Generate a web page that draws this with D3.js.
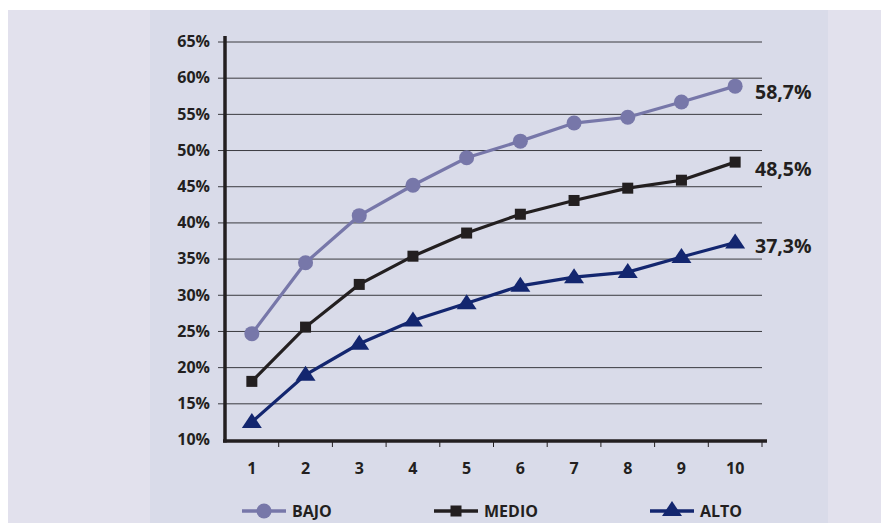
<!DOCTYPE html>
<html>
<head>
<meta charset="utf-8">
<script src="https://cdn.jsdelivr.net/npm/d3@7"></script>
<style>
  body { margin: 0; background: #fff; }
  svg text { font-family: "Open Sans", "DejaVu Sans", sans-serif; font-weight: 700; fill: #231f20; }
</style>
</head>
<body>
<div id="chart"></div>
<script>
// Datos
const categories = [1, 2, 3, 4, 5, 6, 7, 8, 9, 10];
const bajo  = [24.7, 34.5, 41.0, 45.2, 49.0, 51.3, 53.8, 54.6, 56.7, 58.9];
const medio = [18.1, 25.6, 31.5, 35.4, 38.6, 41.2, 43.1, 44.8, 45.9, 48.4];
const alto  = [12.5, 19.0, 23.3, 26.5, 28.9, 31.3, 32.5, 33.2, 35.3, 37.3];
const yTicks = [10, 15, 20, 25, 30, 35, 40, 45, 50, 55, 60, 65];
const endLabels = ['58,7%', '48,5%', '37,3%'];

const series = [
    { name: 'BAJO', values: bajo, color: '#7777a9', marker: 'circle' },
    { name: 'MEDIO', values: medio, color: '#231f20', marker: 'square' },
    { name: 'ALTO', values: alto, color: '#13266f', marker: 'triangle' }
];

const W = 881, H = 523;
const svg = d3.select('#chart').append('svg')
    .attr('width', W).attr('height', H);

// fondos
svg.append('rect').attr('x', 8).attr('y', 10).attr('width', W - 8).attr('height', H - 10).attr('fill', '#e2e1ed');
svg.append('rect').attr('x', 150).attr('y', 10).attr('width', 678).attr('height', H - 10).attr('fill', '#d9dbe9');

const x = d3.scaleBand().domain(categories).range([225, 762]);
const y = d3.scaleLinear().domain([10, 65]).range([440, 42]);

// líneas de cuadrícula
svg.append('g')
    .selectAll('line')
    .data(yTicks.filter(d => d > 10))
    .join('line')
    .attr('x1', 218).attr('x2', 762)
    .attr('y1', d => y(d)).attr('y2', d => y(d))
    .attr('stroke', '#3a3a3f').attr('stroke-width', 1);

// etiquetas eje y
svg.append('g')
    .selectAll('text')
    .data(yTicks)
    .join('text')
    .attr('x', 210)
    .attr('y', d => y(d) + 1)
    .attr('text-anchor', 'end')
    .attr('dominant-baseline', 'middle')
    .attr('font-size', 16)
    .text(d => d + '%');

// eje x
const xAxis = svg.append('g').attr('transform', `translate(0,${y(10)})`);
xAxis.call(d3.axisBottom(x).tickSize(0).tickPadding(23));
xAxis.select('.domain').remove();
xAxis.selectAll('text').attr('font-size', 16).style('font-family', '"Open Sans", sans-serif').attr('fill', '#231f20');
xAxis.selectAll('.tickmark')
    .data(categories)
    .join('line')
    .attr('x1', d => x(d) + x.bandwidth()).attr('x2', d => x(d) + x.bandwidth())
    .attr('y1', 0).attr('y2', 7)
    .attr('stroke', '#231f20').attr('stroke-width', 1);

svg.append('line')
    .attr('x1', 223).attr('x2', 767)
    .attr('y1', y(10) + 1).attr('y2', y(10) + 1)
    .attr('stroke', '#231f20').attr('stroke-width', 3.5);
svg.append('line')
    .attr('x1', 225).attr('x2', 225)
    .attr('y1', 36).attr('y2', y(10) + 2.5)
    .attr('stroke', '#231f20').attr('stroke-width', 3.5);

const cx = d => x(d) + x.bandwidth() / 2;

function drawMarker(g, type, color, px, py) {
    if (type === 'circle') {
        g.append('circle').attr('cx', px).attr('cy', py).attr('r', 7.5).attr('fill', color);
    } else if (type === 'square') {
        g.append('rect').attr('x', px - 5.5).attr('y', py - 5.5).attr('width', 11).attr('height', 11).attr('fill', color);
    } else {
        g.append('path')
            .attr('d', `M${px},${py - 9}L${px + 10},${py + 6}L${px - 10},${py + 6}Z`)
            .attr('fill', color);
    }
}

const line = d3.line().x((d, i) => cx(categories[i])).y(d => y(d));
const labelDy = [13, 14, 11];

series.forEach((s, k) => {
    const g = svg.append('g');
    g.append('path')
        .datum(s.values)
        .attr('d', line)
        .attr('fill', 'none')
        .attr('stroke', s.color)
        .attr('stroke-width', 3.2);
    s.values.forEach((v, i) => drawMarker(g, s.marker, s.color, cx(categories[i]), y(v)));
    const last = s.values[s.values.length - 1];
    svg.append('text')
        .attr('x', 755)
        .attr('y', y(last) + labelDy[k])
        .attr('font-size', 19.5)
        .text(endLabels[k]);
});

// leyenda
const legendX = [242, 434, 650];
series.forEach((s, k) => {
    const g = svg.append('g');
    const lx = legendX[k], ly = 511;
    g.append('line')
        .attr('x1', lx).attr('x2', lx + 44)
        .attr('y1', ly).attr('y2', ly)
        .attr('stroke', s.color).attr('stroke-width', 3.5);
    drawMarker(g, s.marker, s.color, lx + 22, ly + (s.marker === 'triangle' ? -1 : 0));
    g.append('text')
        .attr('x', lx + 50)
        .attr('y', ly + 6)
        .attr('font-size', 16)
        .text(s.name);
});
</script>
</body>
</html>
